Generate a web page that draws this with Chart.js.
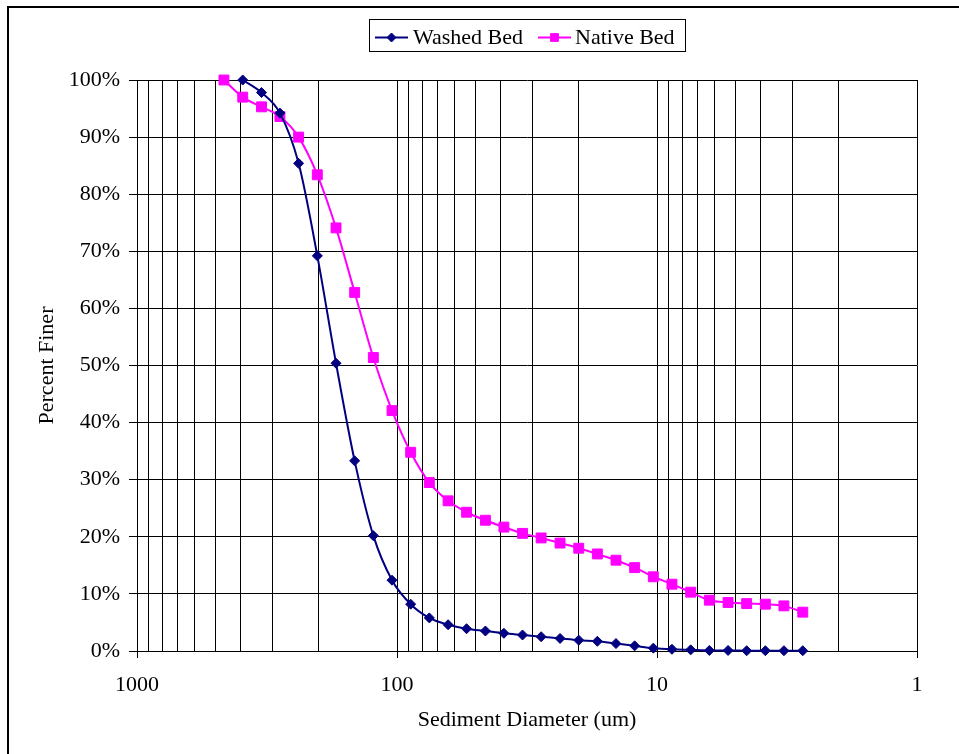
<!DOCTYPE html>
<html>
<head>
<meta charset="utf-8">
<script src="https://cdn.jsdelivr.net/npm/chart.js@4/dist/chart.umd.min.js"></script>
<style>
  html, body { margin: 0; padding: 0; background: #fff; }
</style>
</head>
<body>
<canvas id="grain" width="959" height="754"></canvas>
<script>
// particle size classes (um)
const diameters = [463, 392, 332, 282, 239, 202.5, 171.6, 145.5, 123.3, 104.5,
  88.6, 75.1, 63.6, 54.0, 45.7, 38.8, 32.9, 27.9, 23.6, 20.0,
  16.96, 14.38, 12.19, 10.33, 8.76, 7.42, 6.29, 5.33, 4.52, 3.83, 3.25, 2.75];

// percent finer, native bed starts at the first class
const nativeBed = [100, 97.0, 95.3, 93.6, 90.0, 83.4, 74.1, 62.8, 51.4, 42.1,
  34.8, 29.5, 26.3, 24.3, 22.9, 21.7, 20.6, 19.8, 18.9, 18.0,
  17.0, 15.9, 14.6, 13.0, 11.7, 10.3, 8.9, 8.5, 8.3, 8.2, 7.9, 6.8];

// washed bed starts at the second class
const washedBed = [100, 97.8, 94.2, 85.4, 69.2, 50.4, 33.3, 20.2, 12.4,
  8.2, 5.8, 4.6, 3.9, 3.5, 3.1, 2.8, 2.5, 2.2, 1.9, 1.7,
  1.3, 0.9, 0.5, 0.3, 0.2, 0.1, 0.1, 0.05, 0.05, 0.05, 0.05];

const xTickLabels = [1000, 100, 10, 1];

function toPoints(values, offset) {
  return values.map((v, i) => ({ x: diameters[i + offset], y: v }));
}

Chart.defaults.font.family = "'Liberation Serif', 'Times New Roman', serif";
Chart.defaults.font.size = 22;
Chart.defaults.color = '#000';

// outer frame (only top and left edges show in the crop)
const frame = {
  id: 'frame',
  afterDraw(chart) {
    const c = chart.ctx;
    c.save();
    c.strokeStyle = '#000';
    c.lineWidth = 2;
    c.beginPath();
    c.moveTo(8, 754);
    c.lineTo(8, 7);
    c.lineTo(959, 7);
    c.stroke();
    c.restore();
  }
};

// excel style legend: boxed, line with marker
const boxLegend = {
  id: 'boxLegend',
  afterDraw(chart) {
    const c = chart.ctx;
    c.save();
    c.strokeStyle = '#000';
    c.lineWidth = 1;
    c.strokeRect(369.5, 19.5, 316, 32);
    const items = [{ ds: 0, x: 375, tx: 413, r: 4.5 }, { ds: 1, x: 538, tx: 575, r: 5.5 }];
    const y = 37.5;
    items.forEach(it => {
      const ds = chart.data.datasets[it.ds];
      c.strokeStyle = ds.borderColor;
      c.lineWidth = 2;
      c.beginPath();
      c.moveTo(it.x, y);
      c.lineTo(it.x + 33, y);
      c.stroke();
      c.fillStyle = ds.backgroundColor;
      c.lineWidth = 1;
      Chart.helpers.drawPoint(c, {
        pointStyle: ds.pointStyle,
        radius: it.r,
        rotation: 0,
        borderWidth: 1
      }, it.x + 16.5, y);
      c.fillStyle = '#000';
      c.textBaseline = 'middle';
      c.textAlign = 'left';
      c.font = "22px 'Liberation Serif', 'Times New Roman', serif";
      c.fillText(ds.label, it.tx, y + 1);
    });
    c.restore();
  }
};

new Chart(document.getElementById('grain'), {
  type: 'line',
  data: {
    datasets: [
      {
        label: 'Washed Bed',
        data: toPoints(washedBed, 1),
        borderColor: '#000080',
        backgroundColor: '#000080',
        borderWidth: 2,
        pointStyle: 'rectRot',
        pointRadius: 5,
        pointBorderWidth: 1,
        tension: 0.4,
        cubicInterpolationMode: 'monotone',
        clip: false
      },
      {
        label: 'Native Bed',
        data: toPoints(nativeBed, 0),
        borderColor: '#FF00FF',
        backgroundColor: '#FF00FF',
        borderWidth: 2,
        pointStyle: 'rect',
        pointRadius: 7,
        pointBorderWidth: 1,
        tension: 0.4,
        cubicInterpolationMode: 'monotone',
        clip: false
      }
    ]
  },
  options: {
    responsive: false,
    animation: false,
    devicePixelRatio: 1,
    layout: { padding: { left: 0, right: 42, top: 80, bottom: 0 } },
    plugins: {
      legend: { display: false },
      tooltip: { enabled: false }
    },
    scales: {
      x: {
        type: 'logarithmic',
        reverse: true,
        min: 1,
        max: 1000,
        afterBuildTicks(scale) {
          const t = [];
          [1, 10, 100].forEach(d => {
            for (let k = 1; k < 10; k++) t.push({ value: k * d });
          });
          t.push({ value: 1000 });
          scale.ticks = t;
        },
        afterFit(scale) { scale.height = 103; },
        ticks: {
          autoSkip: false,
          maxRotation: 0,
          padding: 14,
          callback(v) { return xTickLabels.includes(v) ? String(v) : ''; }
        },
        grid: {
          color: '#000',
          lineWidth: 1,
          tickLength: 7,
          tickColor: c => (c.tick && xTickLabels.includes(c.tick.value)) ? '#000' : 'rgba(0,0,0,0)'
        },
        border: { display: true, color: '#000', width: 1 },
        title: { display: true, text: 'Sediment Diameter (um)', padding: { top: 0, bottom: 21 } }
      },
      y: {
        min: 0,
        max: 100,
        afterFit(scale) { scale.width = 137; },
        ticks: { stepSize: 10, padding: 9, callback: v => v + '%' },
        grid: { color: '#000', lineWidth: 1, tickLength: 8 },
        border: { display: true, color: '#000', width: 1 },
        title: { display: true, text: 'Percent Finer', padding: { top: 34, bottom: 0 } }
      }
    }
  },
  plugins: [frame, boxLegend]
});
</script>
</body>
</html>
